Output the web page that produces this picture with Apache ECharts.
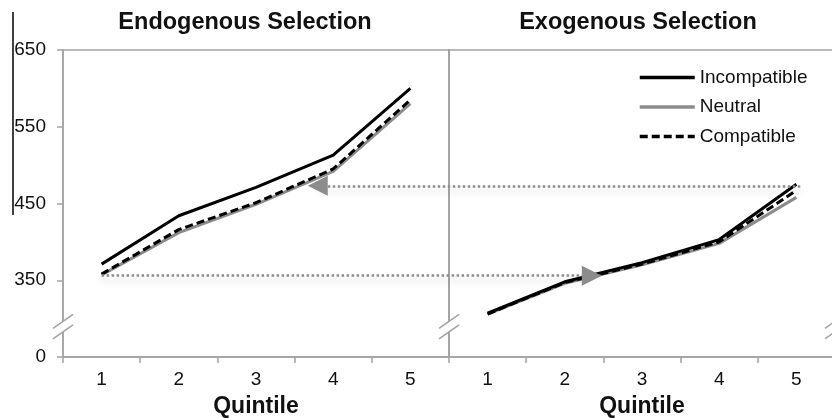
<!DOCTYPE html>
<html>
<head>
<meta charset="utf-8">
<script src="https://cdn.jsdelivr.net/npm/echarts@6/dist/echarts.min.js"></script>
<style>
  html, body { margin: 0; background: #fff; }
  #chart { width: 832px; height: 418px; }
</style>
</head>
<body>
<div id="chart"></div>
<script>
// data
const quintiles = ["1", "2", "3", "4", "5"];
const endoIncompatible = [371, 434, 471, 513, 600];
const endoNeutral = [357, 412, 449, 492, 580];
const endoCompatible = [358, 416, 451, 495, 585];
const exoIncompatible = [307, 348, 373, 403, 475];
const exoNeutral = [306, 346, 370, 398, 458];
const exoCompatible = [306, 347, 371, 400, 467];

// arrows: [from, to] on a 0..10 overlay axis spanning both panels, plus level
const arrowFrom = [9.55, 0.5];
const arrowTo = [3.3, 6.85];
const arrowLevel = [473, 356];

// y axis starts at 250 but is shown as a broken axis with "0" at the bottom
const yMin = 250;
const breakLevel = 290;
const breakX = [0, 5, 10];

const FONT = "Liberation Sans, Arial, sans-serif";
const AXIS_GRAY = "#a3a3a3";
const NEUTRAL_GRAY = "#8c8c8c";

const chart = echarts.init(document.getElementById("chart"));

const lineSeries = (name, data, idx) => {
  const base = {
    name: name,
    type: "line",
    xAxisIndex: idx,
    yAxisIndex: idx,
    data: data,
    symbol: "none",
    silent: true,
    animation: false,
  };
  if (name === "Incompatible") {
    base.lineStyle = { color: "#000", width: 3 };
    base.itemStyle = { color: "#000" };
    base.z = 4;
  } else if (name === "Neutral") {
    base.lineStyle = { color: NEUTRAL_GRAY, width: 3 };
    base.itemStyle = { color: NEUTRAL_GRAY };
    base.z = 2;
  } else {
    base.lineStyle = { color: "#000", width: 3, type: [8, 4] };
    base.itemStyle = { color: "#000" };
    base.z = 3;
  }
  return base;
};

const xAxisFor = (idx) => ({
  type: "category",
  gridIndex: idx,
  data: quintiles,
  boundaryGap: true,
  axisLine: { lineStyle: { color: AXIS_GRAY, width: 1.5 } },
  axisTick: { show: true, length: 6, lineStyle: { color: AXIS_GRAY, width: 1.5 } },
  axisLabel: { color: "#111", fontSize: 19, fontFamily: FONT, margin: 13 },
  name: "Quintile",
  nameLocation: "middle",
  nameGap: 38,
  nameTextStyle: { color: "#111", fontSize: 23, fontWeight: "bold", fontFamily: FONT },
});

const gridBase = {
  top: 50,
  height: 307,
  outerBoundsMode: "none",
  containLabel: false,
};

const option = {
  animation: false,
  backgroundColor: "#fff",
  title: [
    {
      text: "Endogenous Selection",
      left: 240,
      top: 6,
      textAlign: "center",
      textStyle: { fontSize: 23.5, fontWeight: "bold", color: "#111", fontFamily: FONT },
    },
    {
      text: "Exogenous Selection",
      left: 633,
      top: 6,
      textAlign: "center",
      textStyle: { fontSize: 23.5, fontWeight: "bold", color: "#111", fontFamily: FONT },
    },
  ],
  legend: {
    data: ["Incompatible", "Neutral", "Compatible"],
    orient: "vertical",
    left: 638,
    top: 68,
    padding: 0,
    itemWidth: 55,
    itemHeight: 14,
    itemGap: 10.5,
    itemStyle: { opacity: 0 },
    lineStyle: { width: 3.5 },
    textStyle: { fontSize: 19, color: "#111", fontFamily: FONT },
    selectedMode: false,
  },
  grid: [
    Object.assign({ left: 63, width: 386, show: true, borderColor: AXIS_GRAY, borderWidth: 1.5 }, gridBase),
    Object.assign({ left: 449, width: 386, show: true, borderColor: AXIS_GRAY, borderWidth: 1.5 }, gridBase),
    Object.assign({ left: 63, width: 772 }, gridBase),
  ],
  xAxis: [
    xAxisFor(0),
    xAxisFor(1),
    { type: "value", gridIndex: 2, min: 0, max: 10, show: false },
  ],
  yAxis: [
    {
      type: "value",
      gridIndex: 0,
      min: yMin,
      max: 650,
      interval: 100,
      splitLine: { show: false },
      axisLine: { show: true, lineStyle: { color: AXIS_GRAY, width: 1.5 } },
      axisTick: { show: true, length: 6, lineStyle: { color: AXIS_GRAY, width: 1.5 } },
      axisLabel: {
        color: "#111",
        fontSize: 19,
        fontFamily: FONT,
        margin: 17,
        formatter: (v) => (v === yMin ? "0" : String(v)),
      },
    },
    {
      type: "value",
      gridIndex: 1,
      min: yMin,
      max: 650,
      interval: 100,
      splitLine: { show: false },
      axisLine: { show: true, lineStyle: { color: AXIS_GRAY, width: 1.5 } },
      axisTick: { show: false },
      axisLabel: { show: false },
    },
    { type: "value", gridIndex: 2, min: yMin, max: 650, show: false },
  ],
  series: [
    lineSeries("Neutral", endoNeutral, 0),
    lineSeries("Compatible", endoCompatible, 0),
    lineSeries("Incompatible", endoIncompatible, 0),
    lineSeries("Neutral", exoNeutral, 1),
    lineSeries("Compatible", exoCompatible, 1),
    lineSeries("Incompatible", exoIncompatible, 1),
    {
      type: "line",
      xAxisIndex: 2,
      yAxisIndex: 2,
      data: [],
      silent: true,
      z: 1,
      markLine: {
        silent: true,
        animation: false,
        symbol: ["none", "triangle"],
        symbolSize: [20, 20],
        label: { show: false },
        lineStyle: {
          color: NEUTRAL_GRAY,
          width: 2.5,
          type: "dotted",
          shadowColor: "rgba(0,0,0,0.22)",
          shadowBlur: 6,
          shadowOffsetY: 5,
        },
        emphasis: { disabled: true },
        data: arrowLevel.map((lvl, i) => [
          { coord: [arrowFrom[i], lvl] },
          { coord: [arrowTo[i], lvl] },
        ]),
      },
    },
  ],
};

chart.setOption(option);

// axis break marks (double slashes) placed from the overlay axis
const graphics = [];
breakX.forEach((bx) => {
  const p = chart.convertToPixel({ gridIndex: 2 }, [bx, breakLevel]);
  const cx = p[0], cy = p[1];
  graphics.push({
    type: "polygon",
    z: 100,
    shape: { points: [[cx - 10, cy + 2], [cx + 10, cy - 12], [cx + 10, cy - 1.5], [cx - 10, cy + 12.5]] },
    style: { fill: "#fff" },
  });
  graphics.push({
    type: "line",
    z: 101,
    shape: { x1: cx - 10, y1: cy + 2, x2: cx + 10, y2: cy - 12 },
    style: { stroke: AXIS_GRAY, lineWidth: 1.5 },
  });
  graphics.push({
    type: "line",
    z: 101,
    shape: { x1: cx - 10, y1: cy + 12.5, x2: cx + 10, y2: cy - 1.5 },
    style: { stroke: AXIS_GRAY, lineWidth: 1.5 },
  });
});
// thin crop edge at the far left of the original figure
graphics.push({
  type: "line",
  z: 100,
  shape: { x1: 13, y1: 12, x2: 13, y2: 215 },
  style: { stroke: "#000", lineWidth: 1.5 },
});

chart.setOption({ graphic: graphics });
</script>
</body>
</html>
